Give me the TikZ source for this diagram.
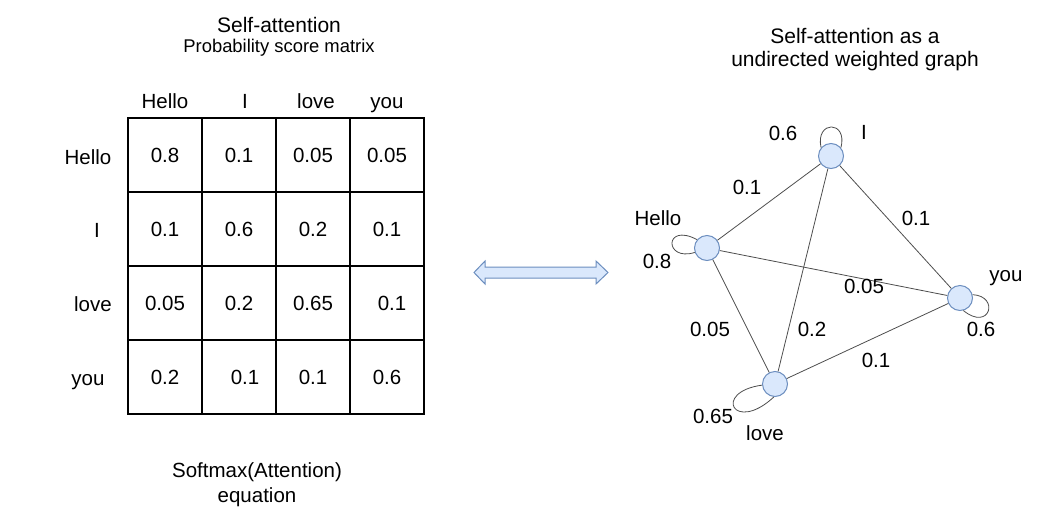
\documentclass[tikz,border=0pt]{standalone}
\usepackage{fontspec}
\setmainfont{Liberation Sans}
\definecolor{nodefill}{HTML}{DAE8FC}
\definecolor{nodeline}{HTML}{6C8EBF}
\definecolor{edgegray}{HTML}{4D4D4D}
\def\lbl{\fontsize{20.5}{24}\selectfont}
\def\loopedge{\draw[edge]}

\begin{document}
\begin{tikzpicture}[x=1pt,y=-1pt,
    cell/.style={draw,line width=1.6pt,minimum size=74pt,inner sep=0pt,font=\lbl,text height=14.7pt,text depth=0pt},
    txt/.style={inner sep=0pt,font=\lbl,text height=14.7pt,text depth=0pt},
    tok/.style={circle,draw=nodeline,fill=nodefill,line width=1pt,minimum size=25pt,inner sep=0pt},
    edge/.style={draw=edgegray,line width=0.8pt}]
\useasboundingbox (0,0) rectangle (1045,512);

% matrix side
\node[inner sep=0pt,font=\fontsize{21}{25}\selectfont] (mtitle) at (279,25) {Self-attention};
\node[inner sep=0pt,font=\fontsize{18.4}{22}\selectfont] (msub) at (279,48) {Probability score matrix};
\foreach \w/\x in {Hello/165, I/245, love/316, you/387}
    \node[txt] (col-\w) at (\x,101) {\w};
\foreach \w/\x/\y in {Hello/88/157, I/97/230, love/93/304, you/88/378}
    \node[txt] (row-\w) at (\x,\y) {\w};
\foreach \r/\y/\a/\b/\c/\d in {1/155/0.8/0.1/0.05/0.05,
                             2/229/0.1/0.6/0.2/0.1,
                             3/303/0.05/0.2/0.65/\hspace*{10pt}0.1,
                             4/377/0.2/\hspace*{12pt}0.1/0.1/0.6}{
    \node[cell] (c\r1) at (165,\y) {\a};
    \node[cell] (c\r2) at (239,\y) {\b};
    \node[cell] (c\r3) at (313,\y) {\c};
    \node[cell] (c\r4) at (387,\y) {\d};
}
\node[txt] (eq1) at (257,470) {Softmax(Attention)};
\node[txt] (eq2) at (257,495) {equation};

% double arrow
\draw[draw=nodeline,fill=nodefill,line width=1pt]
    (474,272.5) -- (485,261) -- (485,267) -- (596,267) -- (596,261) -- (608,272.5)
    -- (596,284) -- (596,278) -- (485,278) -- (485,284) -- cycle;

% graph side
\node[inner sep=0pt,font=\fontsize{21}{25}\selectfont] (gtitle1) at (855,36) {Self-attention as a};
\node[inner sep=0pt,font=\fontsize{21}{25}\selectfont] (gtitle2) at (855,61) {undirected weighted graph};

\node[tok] (I) at (831,156) {};
\node[tok] (Hello) at (707,248) {};
\node[tok] (you) at (960,298) {};
\node[tok] (love) at (775,384) {};

\draw[edge] (Hello) -- (I);
\draw[edge] (I) -- (you);
\draw[edge] (Hello) -- (you);
\draw[edge] (Hello) -- (love);
\draw[edge] (I) -- (love);
\draw[edge] (love) -- (you);

\loopedge (I.140) .. controls (815,120) and (848,120) .. (I.40);
\loopedge (Hello.140) .. controls (664,222) and (664,262) .. (Hello.200);
\loopedge (love.185) .. controls (712,392) and (734,434) .. (love.265);
\loopedge (you.15) .. controls (1000,296) and (990,332) .. (you.285);

\node[txt] (wI) at (864,132) {I};
\node[txt] (wHello) at (658,218) {Hello};
\node[txt] (wyou) at (1006,274) {you};
\node[txt] (wlove) at (765,433) {love};

\node[txt] (sI) at (783,133) {0.6};
\node[txt] (sHello) at (657,261) {0.8};
\node[txt] (syou) at (981,329) {0.6};
\node[txt] (slove) at (713,416) {0.65};
\node[txt] (sHI) at (747,187) {0.1};
\node[txt] (sIy) at (916,218) {0.1};
\node[txt] (sHy) at (864,286) {0.05};
\node[txt] (sHl) at (710,329) {0.05};
\node[txt] (sIl) at (812,329) {0.2};
\node[txt] (sly) at (876,360) {0.1};
\end{tikzpicture}
\end{document}
